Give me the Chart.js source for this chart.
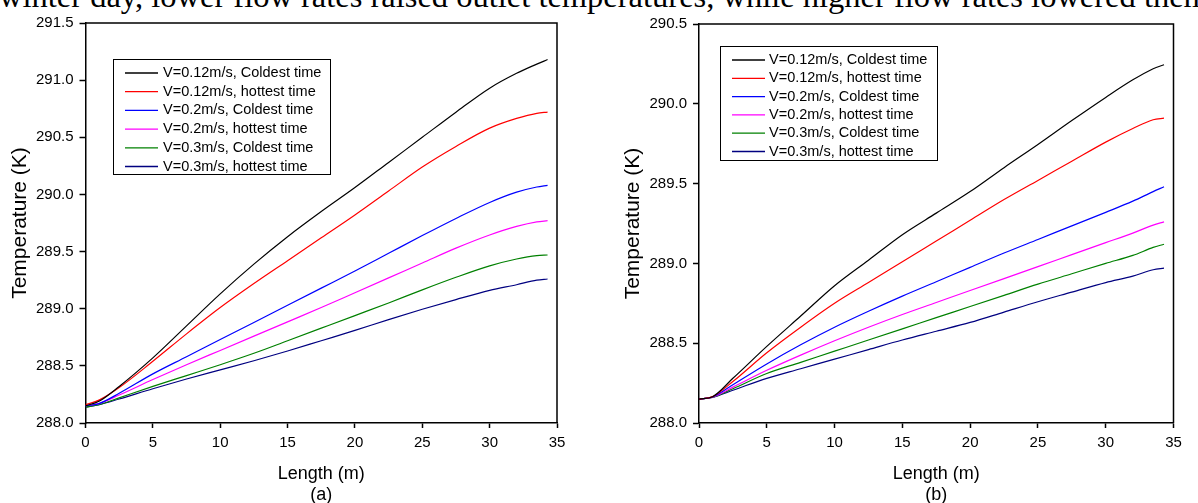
<!DOCTYPE html>
<html lang="en">
<head>
<meta charset="UTF-8" />
<script src="https://cdn.jsdelivr.net/npm/chart.js@4.4.1/dist/chart.umd.min.js"></script>
<style>
  body { margin: 0; width: 1198px; height: 503px; overflow: hidden; background: #fff; position: relative; }
  .caption {
    position: absolute; left: -1px; top: -20px;
    font: 32.5px "Liberation Serif", "Times New Roman", serif;
    line-height: 32px; white-space: nowrap; color: #000;
  }
  .panel { position: absolute; top: 0; height: 503px; }
</style>
</head>
<body>
<div class="caption">winter day, lower flow rates raised outlet temperatures, while higher flow rates lowered them.</div>
<div class="panel" style="left:0; width:600px;"><canvas id="chartA"></canvas></div>
<div class="panel" style="left:600px; width:598px;"><canvas id="chartB"></canvas></div>

<script>
// x positions (m) shared by every curve
const lengthM = [0, 1, 2.5, 5, 7.5, 10, 12.5, 15, 17.5, 20, 22.5, 25, 27.5, 30, 32, 33.5, 34.3];

const seriesLabels = [
  "V=0.12m/s, Coldest time",
  "V=0.12m/s, hottest time",
  "V=0.2m/s, Coldest time",
  "V=0.2m/s, hottest time",
  "V=0.3m/s, Coldest time",
  "V=0.3m/s, hottest time",
];
const seriesColors = ["#000000", "#ff0000", "#0000ff", "#ff00ff", "#008000", "#000080"];

// panel (a)
const aCold012 = [288.15, 288.19, 288.32, 288.57, 288.85, 289.13, 289.39, 289.63, 289.85, 290.06, 290.28, 290.50, 290.72, 290.93, 291.06, 291.14, 291.18];
const aHot012  = [288.16, 288.20, 288.31, 288.54, 288.78, 289.01, 289.22, 289.42, 289.62, 289.82, 290.03, 290.24, 290.42, 290.58, 290.665, 290.71, 290.72];
const aCold02  = [288.15, 288.17, 288.26, 288.43, 288.58, 288.73, 288.88, 289.03, 289.18, 289.33, 289.485, 289.64, 289.79, 289.93, 290.02, 290.065, 290.08];
const aHot02   = [288.15, 288.17, 288.245, 288.38, 288.51, 288.635, 288.76, 288.885, 289.01, 289.14, 289.27, 289.40, 289.53, 289.645, 289.72, 289.76, 289.77];
const aCold03  = [288.14, 288.16, 288.22, 288.32, 288.415, 288.51, 288.61, 288.72, 288.83, 288.94, 289.05, 289.165, 289.275, 289.375, 289.435, 289.465, 289.47];
const aHot03   = [288.14, 288.16, 288.21, 288.30, 288.385, 288.465, 288.545, 288.63, 288.72, 288.81, 288.905, 288.995, 289.08, 289.16, 289.21, 289.25, 289.26];

// panel (b)
const bCold012 = [288.15, 288.165, 288.28, 288.48, 288.67, 288.86, 289.02, 289.18, 289.315, 289.45, 289.60, 289.745, 289.895, 290.04, 290.15, 290.22, 290.245];
const bHot012  = [288.15, 288.165, 288.26, 288.44, 288.60, 288.75, 288.88, 289.01, 289.14, 289.27, 289.40, 289.52, 289.64, 289.76, 289.845, 289.90, 289.91];
const bCold02  = [288.15, 288.163, 288.24, 288.37, 288.49, 288.60, 288.70, 288.795, 288.885, 288.975, 289.065, 289.15, 289.235, 289.32, 289.39, 289.45, 289.48];
const bHot02   = [288.15, 288.162, 288.225, 288.33, 288.425, 288.515, 288.60, 288.68, 288.755, 288.83, 288.905, 288.98, 289.055, 289.13, 289.19, 289.24, 289.26];
const bCold03  = [288.15, 288.162, 288.215, 288.31, 288.38, 288.45, 288.52, 288.59, 288.66, 288.73, 288.80, 288.87, 288.935, 289.00, 289.05, 289.10, 289.12];
const bHot03   = [288.15, 288.161, 288.205, 288.28, 288.34, 288.40, 288.46, 288.52, 288.575, 288.63, 288.695, 288.76, 288.82, 288.88, 288.92, 288.96, 288.97];

// tick labels
const xTicks = [0, 5, 10, 15, 20, 25, 30, 35];
const yTicksA = [288.0, 288.5, 289.0, 289.5, 290.0, 290.5, 291.0, 291.5];
const yTicksB = [288.0, 288.5, 289.0, 289.5, 290.0, 290.5];

const FONT = "'Liberation Sans', Arial, sans-serif";

// box around the plot + legend drawn inside the plot area
const boxAndLegend = {
  id: "boxAndLegend",
  afterDraw(chart, args, opts) {
    const ctx = chart.ctx;
    const ca = chart.chartArea;
    ctx.save();
    ctx.strokeStyle = "#000";
    ctx.lineWidth = 1.5;
    ctx.beginPath();
    ctx.moveTo(ca.left, ca.top);
    ctx.lineTo(ca.right, ca.top);
    ctx.lineTo(ca.right, ca.bottom);
    ctx.stroke();

    // legend
    ctx.lineWidth = 1;
    ctx.strokeRect(opts.left + 0.5, opts.top + 0.5, opts.width, opts.height);
    ctx.font = "14.5px " + FONT;
    ctx.textBaseline = "middle";
    ctx.fillStyle = "#000";
    chart.data.datasets.forEach((ds, i) => {
      const y = opts.firstRow + i * opts.rowStep;
      ctx.strokeStyle = ds.borderColor;
      ctx.lineWidth = 1.3;
      ctx.beginPath();
      ctx.moveTo(opts.sampleX, y);
      ctx.lineTo(opts.sampleX + opts.sampleLen, y);
      ctx.stroke();
      ctx.fillText(ds.label, opts.textX, y);
    });
    ctx.restore();
  },
};

function makeChart(id, series, yTicks, g) {
  const datasets = series.map((vals, i) => ({
    label: seriesLabels[i],
    data: vals.map((v, j) => ({ x: lengthM[j], y: v })),
    borderColor: seriesColors[i],
    borderWidth: 1.2,
    pointRadius: 0,
    cubicInterpolationMode: "monotone",
    fill: false,
  }));

  return new Chart(document.getElementById(id), {
    type: "line",
    data: { datasets },
    plugins: [boxAndLegend],
    options: {
      responsive: true,
      maintainAspectRatio: false,
      animation: false,
      layout: { padding: { top: g.topPad, right: g.rightPad, bottom: 0, left: 0 } },
      plugins: {
        legend: { display: false },
        tooltip: { enabled: false },
        boxAndLegend: g.legend,
      },
      scales: {
        x: {
          type: "linear",
          min: xTicks[0],
          max: xTicks[xTicks.length - 1],
          afterBuildTicks: (s) => { s.ticks = xTicks.map((v) => ({ value: v })); },
          afterFit: (s) => { s.height = 80; },
          border: { color: "#000", width: 1.5 },
          grid: { drawOnChartArea: false, drawTicks: true, tickLength: 5, tickColor: "#000", tickWidth: 1.5 },
          ticks: { color: "#000", font: { size: 15, family: FONT }, padding: 6, maxRotation: 0 },
          title: {
            display: true,
            text: ["Length (m)", g.tag],
            color: "#000",
            font: { size: 18, family: FONT, lineHeight: 1.17 },
            padding: { top: 0, bottom: -3 },
          },
        },
        y: {
          type: "linear",
          min: yTicks[0],
          max: yTicks[yTicks.length - 1],
          afterBuildTicks: (s) => { s.ticks = yTicks.map((v) => ({ value: v })); },
          afterFit: (s) => { s.width = g.yWidth; },
          border: { color: "#000", width: 1.5 },
          grid: { drawOnChartArea: false, drawTicks: true, tickLength: 6, tickColor: "#000", tickWidth: 1.5 },
          ticks: {
            color: "#000",
            font: { size: 15, family: FONT },
            padding: g.yTickPad,
            callback: (v) => Number(v).toFixed(1),
          },
          title: {
            display: true,
            text: "Temperature (K)",
            color: "#000",
            font: { size: 21, family: FONT, lineHeight: 1.17 },
            padding: { top: g.yTitlePad, bottom: 0 },
          },
        },
      },
    },
  });
}

makeChart("chartA", [aCold012, aHot012, aCold02, aHot02, aCold03, aHot03], yTicksA, {
  tag: "(a)",
  topPad: 23,
  rightPad: 43,
  yWidth: 85.5,
  yTickPad: 6,
  yTitlePad: 7.7,
  legend: { left: 113, top: 59, width: 217, height: 115, sampleX: 125, sampleLen: 33, textX: 163, firstRow: 73, rowStep: 18.7 },
});

makeChart("chartB", [bCold012, bHot012, bCold02, bHot02, bCold03, bHot03], yTicksB, {
  tag: "(b)",
  topPad: 24,
  rightPad: 24.5,
  yWidth: 99,
  yTickPad: 6,
  yTitlePad: 20.7,
  legend: { left: 120, top: 46, width: 217, height: 114, sampleX: 132, sampleLen: 33, textX: 169, firstRow: 60, rowStep: 18.3 },
});
</script>
</body>
</html>
